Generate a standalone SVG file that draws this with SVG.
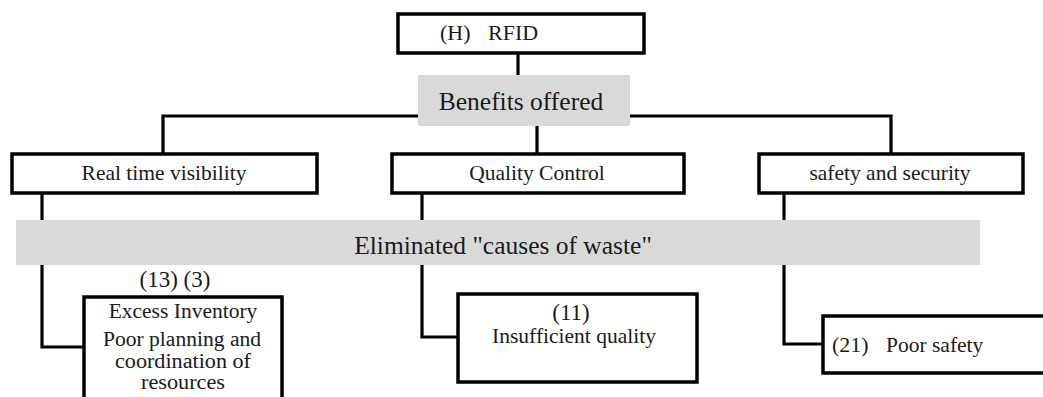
<svg xmlns="http://www.w3.org/2000/svg" width="1043" height="397" viewBox="0 0 1043 397">
<style>
.box{fill:#fff;stroke:#000;stroke-width:3.5}
.bar{fill:#d9d9d9;stroke:none}
.ln{fill:none;stroke:#000;stroke-width:3.2;stroke-linejoin:miter}
text{font-family:"Liberation Serif","Times New Roman",serif;fill:#1a1a1a}
.c{text-anchor:middle}
.s{font-size:20px}
</style>
<rect width="1043" height="397" fill="#fff"/>
<g id="connectors">
<path class="ln" d="M518 53V76"/>
<path class="ln" d="M419 116H163V154"/>
<path class="ln" d="M537 125V154"/>
<path class="ln" d="M629 116H891V154"/>
<path class="ln" d="M42 192V347H84"/>
<path class="ln" d="M422 192V337H458"/>
<path class="ln" d="M784 192V344H823"/>
</g>
<g id="rfid">
<rect class="box" x="398" y="14" width="246" height="39"/>
<text x="440" y="40" font-size="22">(H)</text>
<text x="488" y="40" font-size="22">RFID</text>
</g>
<g id="benefits">
<rect class="bar" x="418" y="75" width="212" height="51"/>
<text class="c" x="521" y="110" font-size="25.5">Benefits offered</text>
</g>
<g id="realtime">
<rect class="box" x="12" y="154" width="305" height="39"/>
<text class="c" x="164" y="180" font-size="21.5">Real time visibility</text>
</g>
<g id="quality">
<rect class="box" x="392" y="154" width="292" height="39"/>
<text class="c" x="537" y="180" font-size="21.5">Quality Control</text>
</g>
<g id="safety">
<rect class="box" x="759" y="154" width="264" height="39"/>
<text class="c" x="890" y="180" font-size="21.5">safety and security</text>
</g>
<g id="eliminated">
<rect class="bar" x="16" y="220" width="964" height="45"/>
<text class="c" x="503" y="254" font-size="25.5">Eliminated "causes of waste"</text>
</g>
<g id="excess">
<text class="c" x="175" y="287" font-size="23">(13) (3)</text>
<rect class="box" x="84" y="297" width="198" height="110"/>
<text class="c" x="183" y="318" font-size="21.5">Excess Inventory</text>
<text class="c s" x="182" y="346" textLength="158" lengthAdjust="spacingAndGlyphs">Poor planning and</text>
<text class="c s" x="183" y="367.5" textLength="136" lengthAdjust="spacingAndGlyphs">coordination of</text>
<text class="c s" x="183" y="389" textLength="84" lengthAdjust="spacingAndGlyphs">resources</text>
</g>
<g id="insufficient">
<rect class="box" x="458" y="294" width="239" height="88"/>
<text class="c" x="571" y="320" font-size="23">(11)</text>
<text class="c" x="574" y="343" font-size="21.5">Insufficient quality</text>
</g>
<g id="poorsafety">
<rect class="box" x="823" y="316" width="240" height="57"/>
<text x="832" y="352" font-size="22">(21)</text>
<text x="886" y="352" font-size="21.5">Poor safety</text>
</g>
</svg>
